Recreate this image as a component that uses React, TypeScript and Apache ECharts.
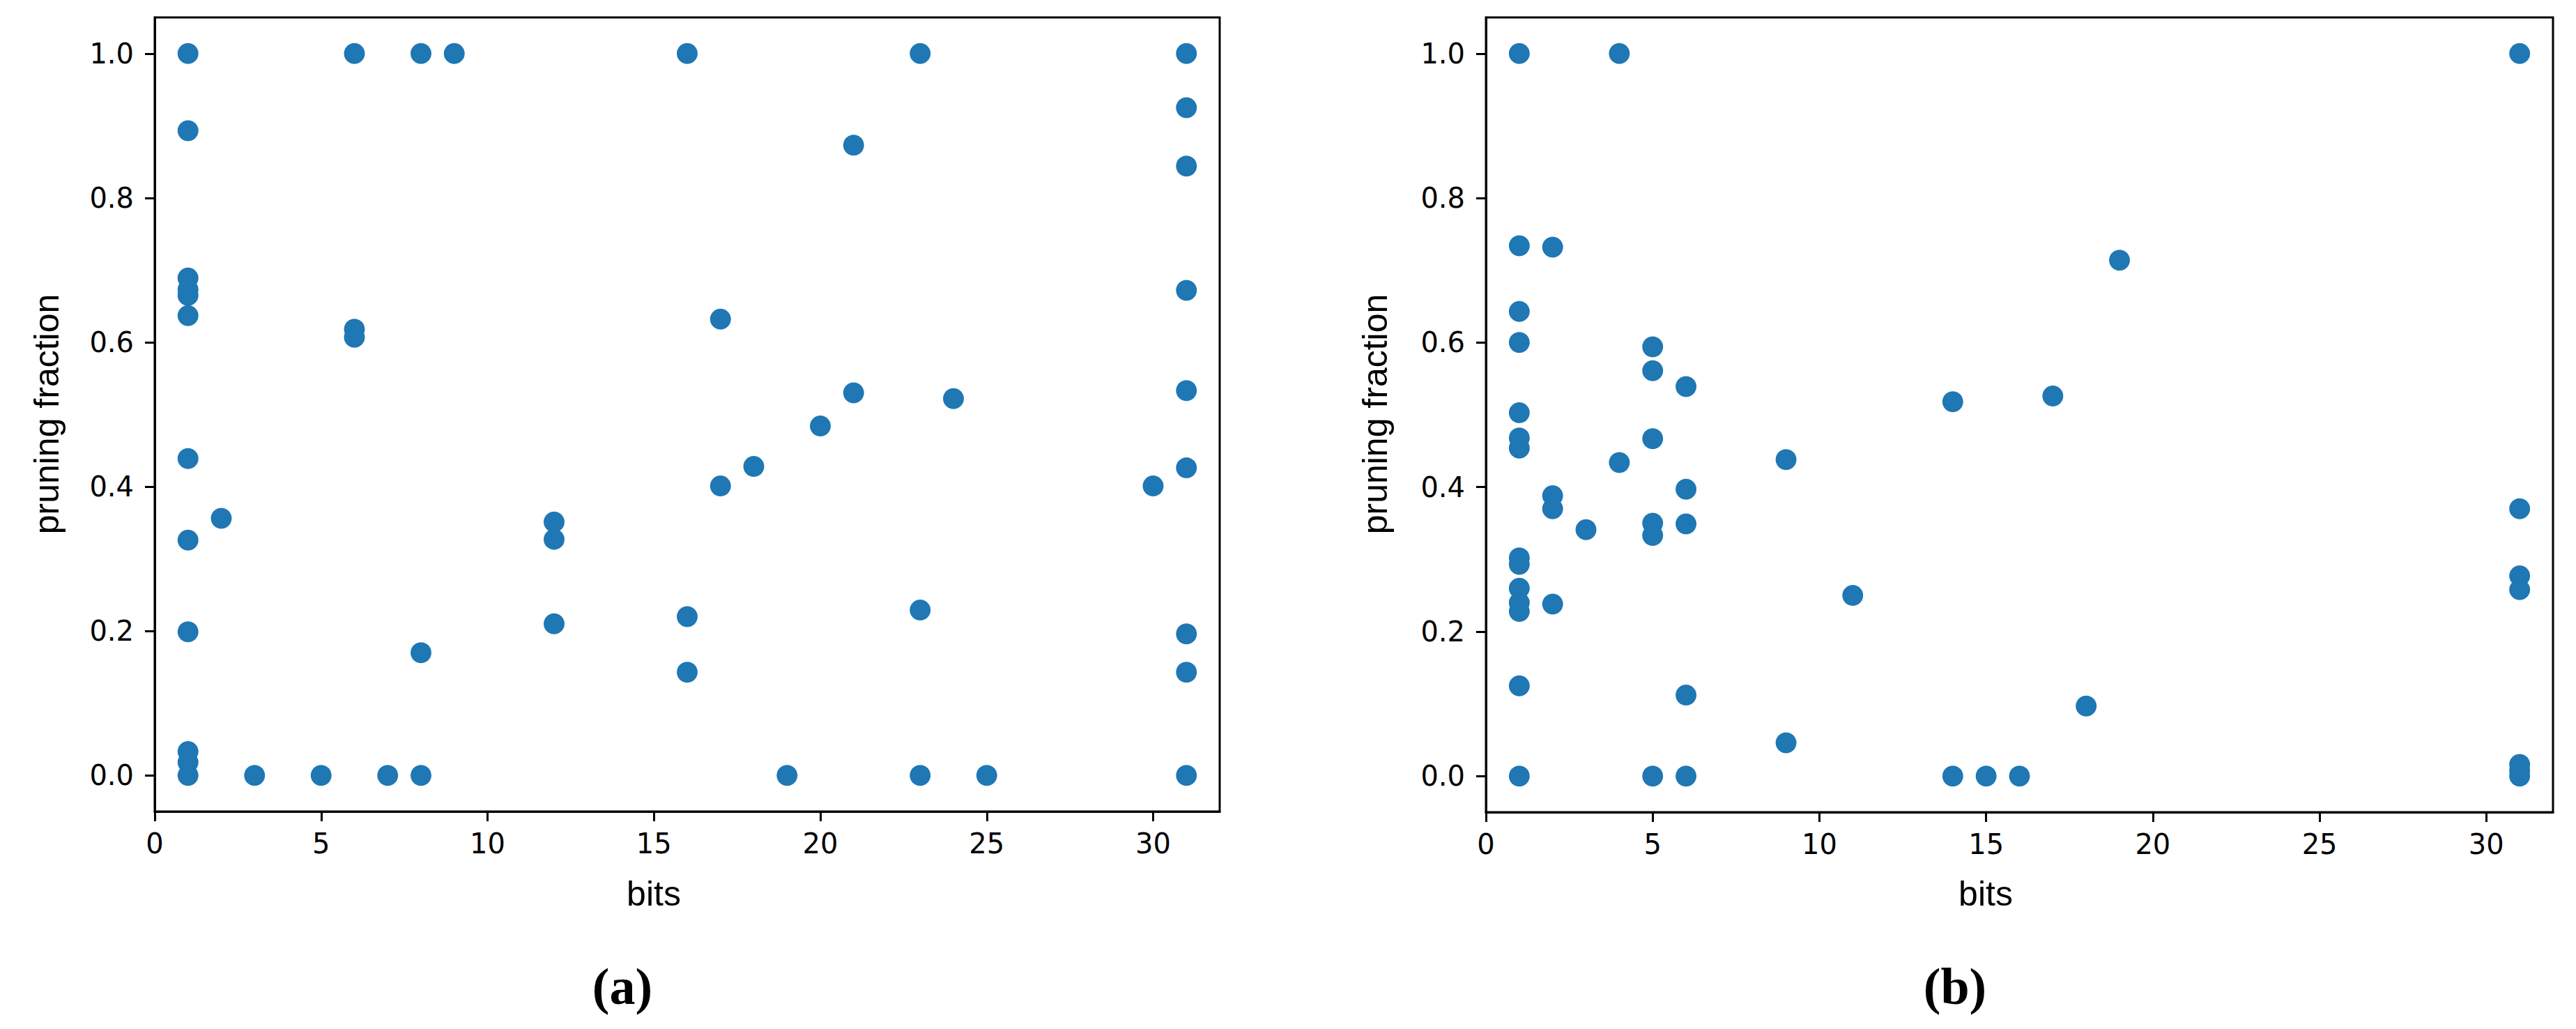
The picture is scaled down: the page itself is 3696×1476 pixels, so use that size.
import React, { useEffect, useRef } from "react";
import * as echarts from "echarts";

// Panel (a)
const panelABits = [
  1, 1, 1, 1, 1, 1, 1, 1, 1, 1, 1, 1,
  2, 3, 5,
  6, 6, 6,
  7,
  8, 8, 8,
  9,
  12, 12, 12,
  16, 16, 16,
  17, 17,
  18, 19, 20,
  21, 21,
  23, 23, 23,
  24, 25, 30,
  31, 31, 31, 31, 31, 31, 31, 31, 31,
];
const panelAFraction = [
  1.0, 0.893, 0.689, 0.673, 0.665, 0.637, 0.439, 0.326, 0.199, 0.033, 0.018, 0.0,
  0.356, 0.0, 0.0,
  1.0, 0.618, 0.607,
  0.0,
  1.0, 0.17, 0.0,
  1.0,
  0.351, 0.327, 0.21,
  1.0, 0.22, 0.143,
  0.632, 0.401,
  0.428, 0.0, 0.484,
  0.873, 0.53,
  1.0, 0.229, 0.0,
  0.522, 0.0, 0.401,
  1.0, 0.925, 0.844, 0.672, 0.533, 0.426, 0.196, 0.143, 0.0,
];

// Panel (b)
const panelBBits = [
  1, 1, 1, 1, 1, 1, 1, 1, 1, 1, 1, 1, 1, 1,
  2, 2, 2, 2,
  3,
  4, 4,
  5, 5, 5, 5, 5, 5,
  6, 6, 6, 6, 6,
  9, 9,
  11,
  14, 14,
  15, 16, 17, 18, 19,
  31, 31, 31, 31, 31, 31, 31,
];
const panelBFraction = [
  1.0, 0.734, 0.643, 0.6, 0.503, 0.468, 0.454, 0.302, 0.293, 0.26, 0.24, 0.228, 0.125, 0.0,
  0.732, 0.388, 0.37, 0.238,
  0.341,
  1.0, 0.434,
  0.594, 0.561, 0.467, 0.35, 0.333, 0.0,
  0.539, 0.397, 0.349, 0.112, 0.0,
  0.438, 0.046,
  0.25,
  0.518, 0.0,
  0.0, 0.0, 0.526, 0.097, 0.714,
  1.0, 0.37, 0.277, 0.258, 0.016, 0.008, 0.0,
];

const xTicks = [0, 5, 10, 15, 20, 25, 30];
const yTicks = [0, 0.2, 0.4, 0.6, 0.8, 1.0];
const xLabel = "bits";
const yLabel = "pruning fraction";
const captions = ["(a)", "(b)"];

const zip = (a: number[], b: number[]) => a.map((v, i) => [v, b[i]]);

const tickFont = {
  fontFamily: "DejaVu Sans",
  fontSize: 40,
  color: "#000",
};

function makeXAxis(gridIndex: number) {
  return {
    type: "value",
    gridIndex,
    min: 0,
    max: 32,
    splitLine: { show: false },
    axisLine: { show: true, onZero: false, lineStyle: { color: "#000", width: 3 } },
    axisTick: {
      show: true,
      inside: false,
      length: 14,
      lineStyle: { color: "#000", width: 3 },
      customValues: xTicks,
    },
    axisLabel: {
      ...tickFont,
      margin: 26,
      customValues: xTicks,
      formatter: (v: number) => String(v),
    },
  };
}

function makeYAxis(gridIndex: number) {
  return {
    type: "value",
    gridIndex,
    min: -0.05,
    max: 1.05,
    splitLine: { show: false },
    axisLine: { show: true, onZero: false, lineStyle: { color: "#000", width: 3 } },
    axisTick: {
      show: true,
      inside: false,
      length: 14,
      lineStyle: { color: "#000", width: 3 },
      customValues: yTicks,
    },
    axisLabel: {
      ...tickFont,
      margin: 30,
      customValues: yTicks,
      formatter: (v: number) => v.toFixed(1),
    },
  };
}

const gridBase = {
  show: true,
  borderColor: "#000",
  borderWidth: 3,
  backgroundColor: "transparent",
  containLabel: false,
};

export default function App() {
  const ref = useRef<HTMLDivElement>(null);
  useEffect(() => {
    if (!ref.current) return;
    const chart = echarts.init(ref.current, null, { renderer: "svg" });
    const nameStyle = {
      fontFamily: "Liberation Sans",
      fontSize: 50,
      fill: "#000",
      textAlign: "center",
      textVerticalAlign: "middle",
    };
    const capStyle = {
      fontFamily: "Liberation Serif",
      fontSize: 74,
      fill: "#000",
      textAlign: "center",
      textVerticalAlign: "middle",
    };
    chart.setOption({
      animation: false,
      backgroundColor: "#fff",
      grid: [
        { ...gridBase, left: 222, top: 25, width: 1528, height: 1139 },
        { ...gridBase, left: 2132, top: 25, width: 1531, height: 1140 },
      ],
      xAxis: [makeXAxis(0), makeXAxis(1)],
      yAxis: [makeYAxis(0), makeYAxis(1)],
      series: [
        {
          type: "scatter",
          xAxisIndex: 0,
          yAxisIndex: 0,
          symbol: "circle",
          symbolSize: 30,
          itemStyle: { color: "#1f77b4", opacity: 1 },
          data: zip(panelABits, panelAFraction),
        },
        {
          type: "scatter",
          xAxisIndex: 1,
          yAxisIndex: 1,
          symbol: "circle",
          symbolSize: 30,
          itemStyle: { color: "#1f77b4", opacity: 1 },
          data: zip(panelBBits, panelBFraction),
        },
      ],
      graphic: [
        { type: "text", x: 938, y: 1282, style: { ...nameStyle, text: xLabel } },
        { type: "text", x: 2849, y: 1282, style: { ...nameStyle, text: xLabel } },
        { type: "text", x: 67, y: 594, rotation: Math.PI / 2, style: { ...nameStyle, text: yLabel } },
        { type: "text", x: 1973, y: 594, rotation: Math.PI / 2, style: { ...nameStyle, text: yLabel } },
        { type: "text", x: 893, y: 1415, style: { ...capStyle, text: captions[0], fontWeight: "bold" } },
        { type: "text", x: 2805, y: 1415, style: { ...capStyle, text: captions[1], fontWeight: "bold" } },
      ],
    });
    return () => chart.dispose();
  }, []);
  return (
    <div
      ref={ref}
      style={{ position: "fixed", left: 0, top: 0, width: 3696, height: 1476, background: "#fff" }}
    />
  );
}
